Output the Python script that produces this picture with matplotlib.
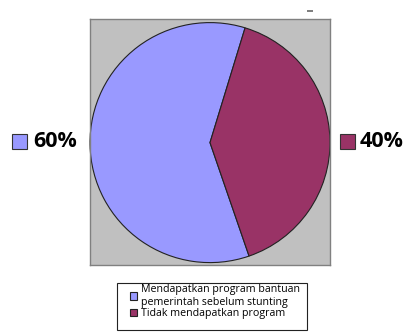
import matplotlib
matplotlib.use("Agg")
import matplotlib.pyplot as plt
from matplotlib.patches import Rectangle

labels = ["Mendapatkan program bantuan\npemerintah sebelum stunting", "Tidak mendapatkan program"]
values = [60, 40]
pct_labels = ["60%", "40%"]
colors = ["#9999FF", "#993366"]

plt.rcParams['font.family'] = ['Open Sans', 'DejaVu Sans']

fig = plt.figure(figsize=(4.07, 3.34), dpi=100)
ax = fig.add_axes([90/407, (334-265)/334, 240/407, 246/334])
ax.set_facecolor("#C0C0C0")
for s in ax.spines.values():
    s.set_color("#808080")
    s.set_linewidth(1)

wedges, _ = ax.pie(values, colors=colors, startangle=73, counterclock=True,
                   wedgeprops=dict(edgecolor="#222222", linewidth=0.8))
ax.set_aspect("auto")
ax.set_xlim(-1.0, 1.0)
ax.set_ylim(-1.02, 1.03)
ax.set_frame_on(True)

# outside percentage labels with colour squares
for (xs, xt), lab, c in zip([(12/407, 33/407), (340/407, 360/407)], pct_labels, colors):
    fig.patches.append(Rectangle((xs, (334-149)/334), 15/407, 15/334, transform=fig.transFigure,
                                 facecolor=c, edgecolor="#333333", linewidth=0.8))
    fig.text(xt, (334-141)/334, lab, fontsize=15.5, fontweight="bold", va="center", ha="left")

# small gray mark at top right
fig.patches.append(Rectangle((307/407, (334-12)/334), 6/407, 2/334, transform=fig.transFigure,
                             facecolor="#808080", edgecolor="none"))

# legend box
fig.patches.append(Rectangle((117/407, (334-330)/334), 190/407, 47/334, transform=fig.transFigure,
                             facecolor="white", edgecolor="#222222", linewidth=0.8))
leg = fig.legend(wedges, labels, loc="upper left", bbox_to_anchor=(130/407, (334-284)/334),
                 fontsize=7.7, frameon=False, handlelength=0.7,
                 handleheight=0.7, handletextpad=0.35, borderaxespad=0, labelspacing=0.05,
                 borderpad=0)

fig.savefig("out.png", dpi=100)
